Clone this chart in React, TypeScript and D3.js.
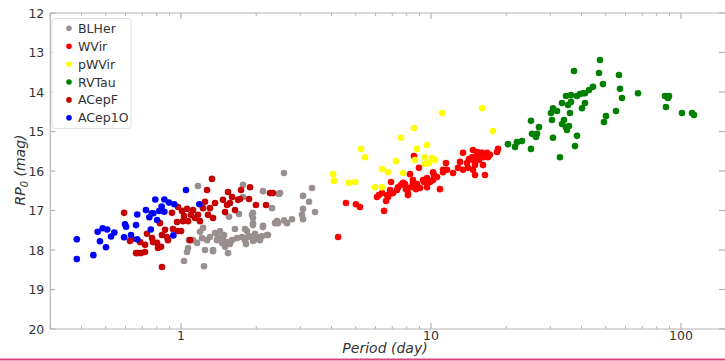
import React from "react";
import * as d3 from "d3";

const W = 725;
const H = 361;

const seriesNames = ["BLHer", "WVir", "pWVir", "RVTau", "ACepF", "ACep1O"];
const seriesColors = ["#9a8f8f", "#ff0000", "#ffff00", "#008000", "#c40000", "#0000ff"];

const blher: [number, number][] = [
  [1.028, 18.28], [1.057, 18.05], [1.067, 17.95], [1.076, 17.75], [1.117, 17.75], [1.159, 17.82], [1.169, 16.38],
  [1.191, 17.54], [1.213, 17.7], [1.225, 17.44], [1.236, 18.41], [1.247, 18.0], [1.271, 17.75], [1.306, 17.67],
  [1.343, 18.0], [1.368, 17.57], [1.393, 17.75], [1.406, 17.67], [1.432, 17.52], [1.459, 17.82], [1.472, 17.75],
  [1.486, 17.62], [1.5, 17.92], [1.528, 17.8], [1.542, 18.08], [1.556, 17.16], [1.6, 17.75], [1.644, 17.47],
  [1.675, 17.7], [1.706, 17.09], [1.754, 17.67], [1.77, 16.35], [1.803, 17.75], [1.837, 17.52], [1.888, 17.65],
  [1.923, 17.11], [1.941, 17.32], [1.959, 17.75], [2.014, 17.67], [2.07, 17.75], [2.128, 16.51], [2.128, 17.42],
  [2.208, 17.62], [2.312, 16.94], [2.377, 17.32], [2.421, 17.27], [2.466, 16.58], [2.582, 16.05], [2.489, 16.56],
  [1.77, 16.66], [3.342, 16.43], [3.076, 16.63], [3.251, 16.78], [3.436, 17.04], [3.076, 16.96], [3.048, 17.11],
  [3.076, 17.22], [2.78, 17.22], [2.655, 17.32], [2.582, 17.25], [2.443, 17.32], [1.941, 17.06], [1.941, 17.19],
  [2.128, 17.39], [1.941, 17.37], [1.803, 17.47], [2.228, 17.62], [2.109, 17.65], [1.977, 17.59], [1.854, 17.67],
  [1.82, 17.85], [1.941, 17.77], [1.57, 17.85], [1.343, 18.03],
];

const wvir: [number, number][] = [
  [4.25, 17.67], [4.57, 16.81], [5.01, 16.84], [5.2, 16.91], [6.08, 16.66], [6.19, 16.61], [6.37, 16.56], [6.49, 17.01],
  [6.61, 16.76], [6.67, 16.61], [6.73, 16.66], [6.86, 16.48], [6.92, 16.28], [6.98, 16.56], [7.05, 16.56], [7.31, 16.48],
  [7.38, 16.41], [7.59, 16.35], [7.73, 16.3], [7.87, 16.33], [7.94, 16.46], [8.09, 16.61], [8.09, 16.56], [8.24, 16.08],
  [8.32, 16.41], [8.47, 16.3], [8.47, 16.23], [8.55, 15.62], [8.71, 16.46], [8.79, 16.33], [8.95, 15.92], [9.04, 16.43],
  [9.29, 16.23], [9.38, 16.28], [9.64, 16.18], [9.64, 16.41], [9.91, 16.28], [10.19, 16.03], [10.19, 16.23],
  [10.28, 16.1], [10.57, 16.15], [10.86, 16.46], [11.17, 16.03], [11.17, 15.97], [11.48, 15.8], [11.59, 15.97],
  [12.25, 16.05], [12.82, 15.92], [13.06, 15.77], [13.43, 15.97], [13.43, 15.54], [13.93, 15.8], [14.06, 15.92],
  [14.19, 15.7], [14.59, 15.65], [14.72, 15.47], [14.72, 15.97], [14.72, 15.72], [15.0, 15.85], [15.0, 16.1],
  [15.28, 15.59], [15.28, 15.52], [15.56, 15.72], [15.7, 15.54], [16.0, 15.54], [16.14, 15.65], [16.14, 15.85],
  [16.44, 16.1], [16.75, 15.54], [16.9, 15.65], [17.06, 15.59], [17.22, 15.59], [18.37, 15.52], [18.54, 15.44],
];

const pwvir: [number, number][] = [
  [4.06, 16.08], [4.09, 16.25], [4.7, 16.3], [4.97, 16.28], [5.25, 15.44], [5.45, 15.65], [5.97, 16.41], [6.37, 15.95],
  [6.37, 16.41], [6.73, 16.03], [7.24, 15.75], [7.59, 15.16], [7.73, 16.05], [8.55, 14.91], [8.63, 15.72], [8.79, 15.44],
  [9.46, 15.65], [9.46, 15.82], [9.64, 15.34], [9.82, 15.8], [10.09, 15.67], [10.38, 15.72], [11.07, 14.53],
  [16.0, 14.41], [17.7, 14.99],
];

const rvtau: [number, number][] = [
  [20.32, 15.32], [21.68, 15.39], [22.08, 15.27], [23.12, 15.24], [25.12, 14.73], [25.12, 15.44], [25.35, 15.06],
  [26.3, 15.14], [26.55, 15.06], [27.04, 14.89], [30.2, 14.53], [30.48, 14.71], [30.76, 14.41], [30.76, 15.16],
  [31.92, 14.48], [32.81, 15.65], [33.42, 14.28], [33.42, 14.81], [34.04, 14.71], [34.67, 14.89], [34.67, 14.1],
  [34.99, 14.96], [35.32, 14.33], [35.65, 14.86], [35.97, 14.53], [36.31, 14.25], [36.31, 14.08], [37.33, 13.47],
  [37.67, 15.37], [38.37, 15.11], [38.37, 14.1], [39.45, 14.05], [40.18, 14.41], [40.55, 14.03], [41.3, 14.28],
  [41.3, 14.03], [42.85, 13.95], [44.46, 13.87], [46.99, 13.52], [47.42, 13.19], [48.75, 13.8], [49.2, 14.76],
  [50.12, 14.61], [54.95, 14.48], [56.49, 13.57], [57.02, 13.92], [58.08, 14.15], [67.3, 14.03], [86.3, 14.1],
  [87.1, 14.38], [88.72, 14.15], [89.54, 14.1], [100.9, 14.53], [110.7, 14.53], [112.7, 14.58],
];

const acepf: [number, number][] = [
  [0.592, 17.06], [0.625, 17.77], [0.637, 17.72], [0.661, 18.08], [0.673, 18.08], [0.692, 18.08], [0.718, 18.05],
  [0.686, 17.8], [0.718, 17.87], [0.731, 17.59], [0.766, 17.7], [0.773, 17.8], [0.802, 17.82], [0.809, 17.95],
  [0.832, 17.92], [0.839, 18.43], [0.824, 17.32], [0.839, 17.62], [0.863, 17.49], [0.879, 17.67], [0.887, 17.75],
  [0.92, 17.06], [0.929, 17.47], [0.964, 17.29], [0.973, 16.91], [0.973, 17.52], [1.0, 17.52], [1.009, 17.01],
  [1.019, 17.27], [1.028, 17.14], [1.057, 16.96], [1.067, 17.27], [1.086, 17.75], [1.096, 17.11], [1.117, 16.99],
  [1.138, 17.19], [1.169, 17.11], [1.191, 17.27], [1.225, 16.94], [1.247, 16.78], [1.271, 16.48], [1.282, 17.11],
  [1.306, 16.94], [1.33, 16.2], [1.343, 17.19], [1.368, 16.81], [1.472, 16.73], [1.5, 17.04], [1.528, 16.86],
  [1.542, 16.53], [1.57, 16.81], [1.6, 16.66], [1.644, 16.99], [1.69, 16.73], [1.722, 16.71], [1.738, 16.48],
  [1.888, 16.41], [1.995, 16.86], [1.871, 16.71], [2.188, 16.86], [2.27, 16.56], [2.333, 16.56],
];

const acep1o: [number, number][] = [
  [0.383, 17.73], [0.383, 18.23], [0.446, 18.13], [0.464, 17.54], [0.474, 17.78], [0.486, 17.45], [0.507, 17.48],
  [0.501, 17.93], [0.525, 17.66], [0.541, 17.56], [0.592, 17.68], [0.597, 17.35], [0.603, 17.41], [0.631, 17.62],
  [0.661, 17.37], [0.668, 17.1], [0.668, 17.73], [0.724, 16.99], [0.747, 17.17], [0.757, 17.48], [0.764, 17.07],
  [0.775, 17.07], [0.789, 16.72], [0.802, 17.24], [0.819, 17.01], [0.837, 16.9], [0.858, 16.72], [0.858, 17.03],
  [0.895, 16.8], [0.94, 16.84], [0.932, 17.63], [1.047, 16.48], [1.184, 16.84],
];

const seriesData = [blher, wvir, pwvir, rvtau, acepf, acep1o];

const xDomain: [number, number] = [0.3, 150];
const yDomain: [number, number] = [12, 20];
const yTicks = [12, 13, 14, 15, 16, 17, 18, 19, 20];
const xMajorTicks = [1, 10, 100];
const xMinorTicks = [0.3, 0.4, 0.5, 0.6, 0.7, 0.8, 0.9, 2, 3, 4, 5, 6, 7, 8, 9, 20, 30, 40, 50, 60, 70, 80, 90];

export default function App() {
  const left = 50.3;
  const right = 725;
  const top = 13;
  const bottom = 329;
  const x = d3.scaleLog().domain(xDomain).range([left, right]);
  const y = d3.scaleLinear().domain(yDomain).range([top, bottom]);
  const axisColor = "#b3b3b3";
  const textColor = "#333333";
  const font = "DejaVu Sans";

  return (
    <svg
      width={W}
      height={H}
      style={{ position: "absolute", left: 0, top: 0, background: "#ffffff" }}
      fontFamily={font}
    >
      <rect x={0} y={0} width={W} height={H} fill="#ffffff" />
      {/* data */}
      {seriesData.map((data, si) => (
        <g key={seriesNames[si]}>
          {data.map((d, i) => (
            <circle key={i} cx={x(d[0])} cy={y(d[1])} r={3.3} fill={seriesColors[si]} />
          ))}
        </g>
      ))}
      {/* spines */}
      <g stroke={axisColor} strokeWidth={1.2} fill="none">
        <line x1={left} x2={right} y1={top} y2={top} />
        <line x1={left} x2={right} y1={bottom} y2={bottom} />
        <line x1={left} x2={left} y1={top} y2={bottom} />
        <line x1={right + 1.5} x2={right + 1.5} y1={top} y2={bottom} />
      </g>
      {/* y ticks */}
      {yTicks.map((t) => (
        <g key={"y" + t}>
          <line x1={left} x2={left + 5} y1={y(t)} y2={y(t)} stroke={axisColor} strokeWidth={1.2} />
          <line x1={right - 6} x2={right} y1={y(t)} y2={y(t)} stroke={axisColor} strokeWidth={1.2} />
          <text x={left - 6} y={y(t)} dy="0.36em" textAnchor="end" fontSize={12.5} fill={textColor}>
            {t}
          </text>
        </g>
      ))}
      {/* x ticks */}
      {xMajorTicks.map((t) => (
        <g key={"xm" + t}>
          <line x1={x(t)} x2={x(t)} y1={bottom} y2={bottom - 6} stroke={axisColor} strokeWidth={1.2} />
          <line x1={x(t)} x2={x(t)} y1={top} y2={top + 6} stroke={axisColor} strokeWidth={1.2} />
          <text x={x(t)} y={340} textAnchor="middle" fontSize={12.5} fill={textColor}>
            {t}
          </text>
        </g>
      ))}
      {xMinorTicks.map((t) => (
        <g key={"xn" + t}>
          <line x1={x(t)} x2={x(t)} y1={bottom} y2={bottom - 3} stroke={axisColor} strokeWidth={1} />
          <line x1={x(t)} x2={x(t)} y1={top} y2={top + 3} stroke={axisColor} strokeWidth={1} />
        </g>
      ))}
      {/* axis labels */}
      <text x={385} y={353} textAnchor="middle" fontSize={14} fontStyle="italic" fill={textColor}>
        Period (day)
      </text>
      <text
        transform={`translate(25,${(top + bottom) / 2 - 1}) rotate(-90)`}
        textAnchor="middle"
        fontSize={14}
        fontStyle="italic"
        fill={textColor}
      >
        RP<tspan fontSize={10} dy={3}>0</tspan>
        <tspan dy={-3}> (mag)</tspan>
      </text>
      {/* legend */}
      <rect x={52} y={18.5} width={79} height={110} rx={3} ry={3} fill="#ffffff" fillOpacity={0.85} stroke="#e0e0e0" strokeWidth={1} />
      {seriesNames.map((name, i) => (
        <g key={"leg" + name}>
          <circle cx={69} cy={28.3 + i * 17.9} r={2.8} fill={seriesColors[i]} />
          <text x={78} y={28.3 + i * 17.9} dy="0.36em" fontSize={12.5} fill={textColor}>
            {name}
          </text>
        </g>
      ))}
      {/* bottom border line */}
      <rect x={0} y={358.5} width={W} height={2} fill="#d9467f" />
    </svg>
  );
}
